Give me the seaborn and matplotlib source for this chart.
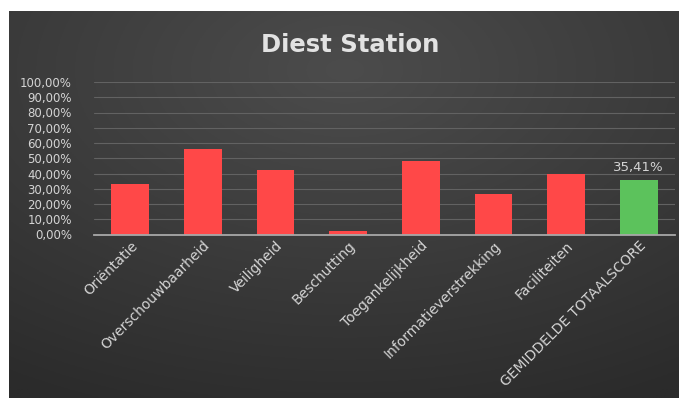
import numpy as np
import matplotlib
matplotlib.use("Agg")
import matplotlib.pyplot as plt
import seaborn as sns
from matplotlib.ticker import FuncFormatter

# Scores per criterion (fraction), with the overall average last
categories = ["Oriëntatie", "Overschouwbaarheid", "Veiligheid", "Beschutting",
              "Toegankelijkheid", "Informatieverstrekking", "Faciliteiten",
              "GEMIDDELDE TOTAALSCORE"]
scores = [0.333, 0.560, 0.420, 0.022, 0.483, 0.266, 0.395, 0.3541]
bar_colors = ["#ff4848"] * 7 + ["#5cc25c"]
title = "Diest Station"
y_ticks = [i / 10 for i in range(11)]

sns.set_theme(style="dark")
plt.rcParams["font.family"] = ["DejaVu Sans"]

fig = plt.figure(figsize=(6.81, 3.98), dpi=100)
fig.patch.set_facecolor("white")

# Dark chart area with a soft radial gradient
bg = fig.add_axes([9 / 681, 0, 670 / 681, 387 / 398])
h, w = 200, 340
yy, xx = np.mgrid[0:h, 0:w]
cx, cy = w * 0.5, h * 0.15
d = np.sqrt(((xx - cx) / w) ** 2 + ((yy - cy) / h) ** 2)
d = np.clip(d / 0.95, 0, 1)
inner = np.array([0x4c, 0x4c, 0x4c]) / 255
outer = np.array([0x2b, 0x2b, 0x2b]) / 255
img = inner[None, None, :] * (1 - d[..., None]) + outer[None, None, :] * d[..., None]
bg.imshow(img, aspect="auto", extent=[0, 1, 0, 1], origin="upper")
bg.set_axis_off()

ax = fig.add_axes([94 / 681, 163.5 / 398, 581 / 681, 152.5 / 398])
ax.set_facecolor("none")

sns.barplot(x=categories, y=scores, hue=categories, palette=bar_colors,
            legend=False, width=0.52, ax=ax, saturation=1, linewidth=0)

ax.set_ylim(0, 1)
ax.set_xlim(-0.5, len(categories) - 0.5)
ax.set_yticks(y_ticks)
ax.yaxis.set_major_formatter(FuncFormatter(lambda v, p: f"{v * 100:.2f}%".replace(".", ",")))
ax.grid(axis="y", color="#626262", linewidth=0.8)
ax.grid(axis="x", visible=False)
ax.set_axisbelow(True)
for s in ["top", "right", "left"]:
    ax.spines[s].set_visible(False)
ax.spines["bottom"].set_color("#a8a8a8")
ax.spines["bottom"].set_linewidth(1.3)
ax.tick_params(axis="y", colors="#d4d4d4", labelsize=8.5, length=0, pad=16)
ax.tick_params(axis="x", colors="#d4d4d4", labelsize=10, length=0, pad=3)
for lab in ax.get_yticklabels():
    lab.set_horizontalalignment("right")
plt.setp(ax.get_xticklabels(), rotation=45, ha="right", rotation_mode="anchor")
ax.set_xlabel("")
ax.set_ylabel("")

# Value label on the average bar
ax.annotate(f"{scores[-1] * 100:.2f}%".replace(".", ","), (len(scores) - 1, scores[-1]),
            xytext=(0, 5), textcoords="offset points", ha="center", va="bottom",
            color="#d4d4d4", fontsize=9.5)

fig.text(350 / 681, 1 - 45 / 398, title, ha="center", va="center",
         fontsize=17.5, fontweight="bold", color="#e2e2e2", fontfamily="DejaVu Sans")

fig.savefig("out.png", dpi=100)
